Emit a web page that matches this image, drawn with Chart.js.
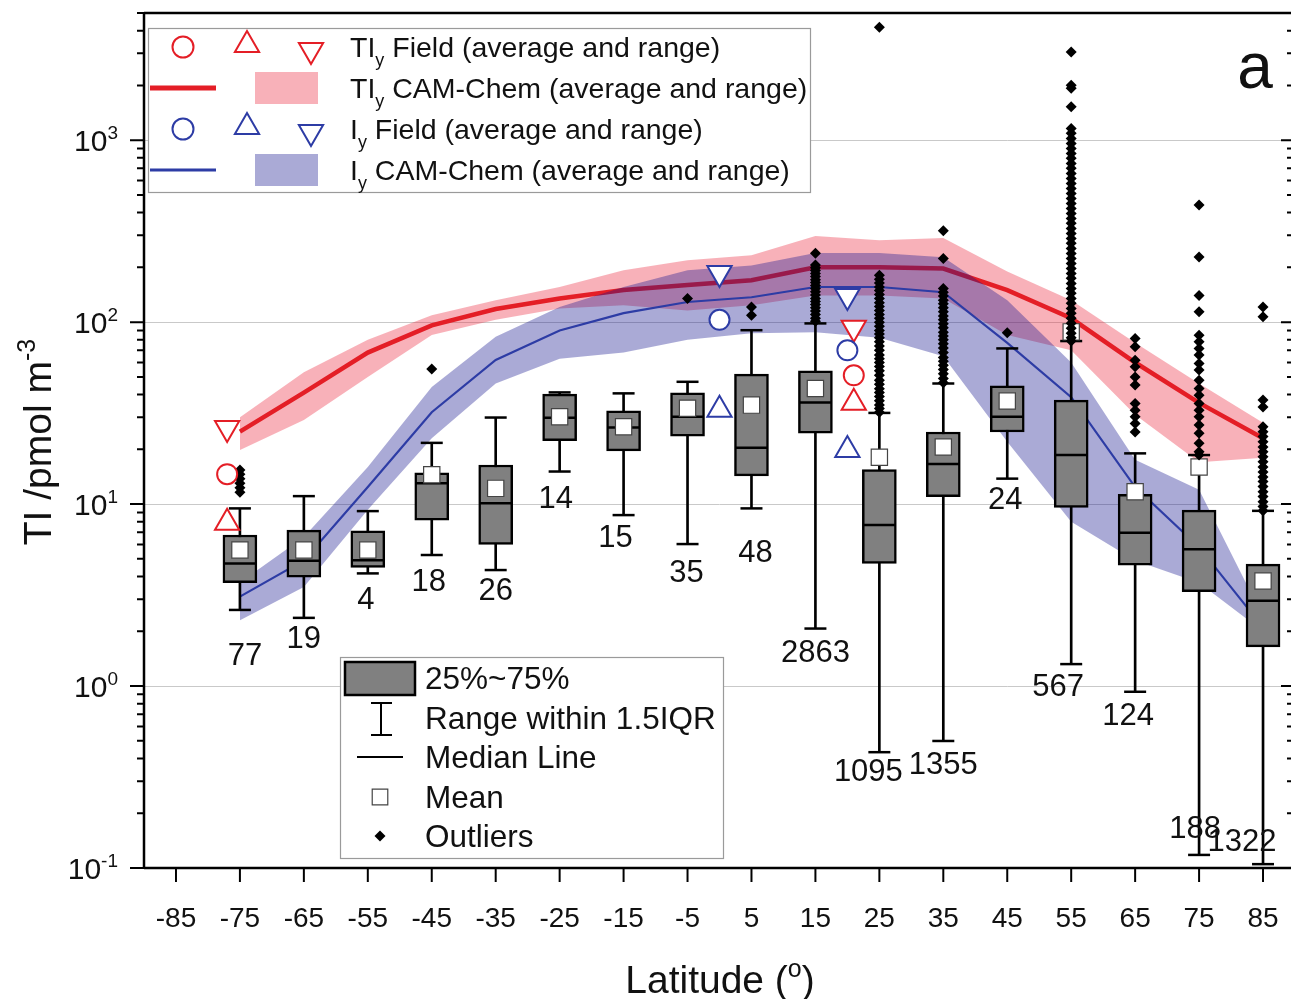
<!DOCTYPE html>
<html>
<head>
<meta charset="utf-8">
<script src="https://cdn.jsdelivr.net/npm/chart.js@4.4.1/dist/chart.umd.min.js"></script>
<style>
  html, body { margin: 0; padding: 0; background: #fff; overflow: hidden; }
  #wrap { position: relative; width: 1300px; height: 999px; }
</style>
</head>
<body>
<div id="wrap"><canvas id="chart" width="1300" height="999"></canvas></div>
<script>
// ---- model (CAM-Chem) zonal averages and ranges ----
const modelLat = [-75, -65, -55, -45, -35, -25, -15, -5, 5, 15, 25, 35, 45, 55, 65, 75, 85];
const tiyAvg  = [25, 41, 68, 96, 118, 135, 150, 160, 170, 200, 200, 197, 150, 105, 60, 36, 23];
const tiyHigh = [30, 53, 80, 109, 132, 156, 193, 219, 233, 297, 282, 290, 190, 132, 77, 46, 28];
const tiyLow  = [19.8, 29, 50, 85, 103, 119, 124, 116, 124, 140, 140, 135, 85, 70, 31, 17, 18];
const iyAvg   = [3.1, 4.9, 12.4, 32, 62, 90, 112, 129, 137, 156, 156, 146, 77, 38.7, 12.4, 5.8, 2.1];
const iyHigh  = [3.7, 6.6, 16, 44, 83, 121, 156, 193, 205, 240, 240, 227, 132, 60, 17.5, 12, 2.4];
const iyLow   = [2.3, 3.5, 9.3, 23, 46, 63, 68, 80, 87, 88, 82, 65, 22, 8, 4.9, 3.7, 2.0];

// ---- field campaigns (average, min, max) ----
const fieldTiyLat = [-77, 21];
const fieldTiyAvg = [14.6, 51];
const fieldTiyMin = [7.9, 36];
const fieldTiyMax = [26.2, 93];
const fieldIyLat = [0, 20];
const fieldIyAvg = [103, 70];
const fieldIyMin = [33, 19.8];
const fieldIyMax = [186, 139];

// ---- observed TI box plots per 10 degree band ----
const boxLat      = [-75, -65, -55, -45, -35, -25, -15, -5, 5, 15, 25, 35, 45, 55, 65, 75, 85];
const boxQ1       = [3.70, 3.96, 4.49, 8.17, 6.0, 22.3, 19.6, 23.6, 14.3, 24.5, 4.72, 10.97, 24.9, 9.59, 4.62, 3.30, 1.64];
const boxQ3       = [6.76, 7.19, 7.13, 14.85, 16.4, 40.2, 32.6, 40.9, 51.8, 54.0, 15.5, 24.9, 44.7, 37.3, 11.3, 9.27, 4.68];
const boxMedian   = [4.72, 4.88, 4.92, 13.0, 10.1, 29.8, 26.4, 30.2, 20.4, 36.2, 7.67, 16.6, 30.2, 18.6, 6.96, 5.64, 2.94];
const boxMean     = [5.59, 5.59, 5.6, 14.5, 12.2, 30.2, 26.6, 33.6, 35.0, 43.2, 18.1, 20.6, 36.9, 88.4, 11.7, 16.0, 3.78];
const whiskerLow  = [2.62, 2.37, 4.16, 5.25, 4.34, 15.1, 8.7, 6.03, 9.47, 2.07, 0.433, 0.499, 13.8, 1.32, 0.93, 0.118, 0.105];
const whiskerHigh = [9.47, 11.06, 9.15, 21.7, 29.9, 41.1, 40.6, 47.0, 90.3, 98.4, 31.7, 46.0, 71.7, 78.7, 19.0, 18.6, 9.18];
const boxCount    = [77, 19, 4, 18, 26, 14, 15, 35, 48, 2863, 1095, 1355, 24, 567, 124, 188, 1322];
const outlierValues = [
  [15.4, 14.6, 13.8, 13.0, 12.3, 11.6],
  [],
  [],
  [55.2],
  [],
  [],
  [],
  [135],
  [121, 109],
  [239, 206, 199, 192, 185, 178, 171, 165, 159, 153, 147, 141, 135, 130, 125, 120, 115, 110, 105, 101],
  [4180, 181, 172, 164, 156, 149, 142, 135, 128, 122, 116, 110, 105, 100, 95, 90, 86, 82, 78, 74, 70, 66, 63, 60, 57, 54, 51, 48, 45.5, 43, 41, 39, 37, 35, 33.5, 32],
  [318, 224, 153, 146, 139, 132, 126, 120, 114, 108, 103, 98, 93, 88, 84, 80, 76, 72, 68, 64, 61, 58, 55, 52, 49, 46.5],
  [87.4],
  [3055, 2005, 1930, 1525, 1160, 1090, 1020, 960, 900, 845, 795, 745, 700, 655, 615, 578, 543, 510, 478, 449, 421, 396, 371, 349, 327, 307, 288, 271, 254, 238, 224, 210, 197, 185, 174, 163, 153, 144, 135, 127, 119, 112, 105, 98.5, 92.5, 87, 82, 78.7],
  [81.3, 73.2, 61.8, 56.8, 50.0, 45.1, 35.7, 32.8, 30.2, 27.7, 24.9],
  [440, 228, 140, 114, 84.8, 77.9, 71.7, 65.9, 59.3, 54.5, 48.0, 43.2, 39.7, 35.7, 32.8, 30.2, 27.2, 24.5, 21.6, 19.4, 18.6],
  [121, 107, 37.3, 34.2, 26.6, 25, 23.5, 22, 20.6, 19.4, 18.2, 17.1, 16, 15, 14.1, 13.3, 12.5, 11.7, 11, 10.3, 9.7, 9.2]
];

// axis ticks
const xTicks = [-85, -75, -65, -55, -45, -35, -25, -15, -5, 5, 15, 25, 35, 45, 55, 65, 75, 85];
const yExponents = [-1, 0, 1, 2, 3];

// count label nudges (px) relative to the lower whisker end
const countDx = [5, 0, -2, -3, 0, -4, -8, -1, 4, 0, -11, 0, -2, -13, -7, -4, -21];
const countDy = [47, 22, 27, 27, 21, 28, 23, 29, 45, 25, 20, 24, 22, 23, 25, -25, -22];

const RED = 'rgb(228,30,38)';
const BLUE = 'rgb(45,60,165)';
const PINK_FILL = 'rgba(235,40,60,0.36)';
const BLUE_FILL = 'rgba(20,20,140,0.36)';
const FONT = '"Liberation Sans", Arial, sans-serif';

const pts = (xs, ys) => xs.map((x, i) => ({x: x, y: ys[i]}));

function font(px) { return px + 'px ' + FONT; }

// parts: [text, mode]; mode 1 = superscript, -1 = subscript
function drawParts(ctx, parts, x, y, size, align) {
  const widths = parts.map(([t, m]) => {
    ctx.font = font(m ? Math.round(size * 0.64) : size);
    return ctx.measureText(t).width;
  });
  const total = widths.reduce((a, b) => a + b, 0);
  let cx = align === 'center' ? x - total / 2 : align === 'right' ? x - total : x;
  ctx.textAlign = 'left';
  ctx.textBaseline = 'alphabetic';
  parts.forEach(([t, m], i) => {
    ctx.font = font(m ? Math.round(size * 0.64) : size);
    const dy = m === 1 ? -size * 0.4 : m === -1 ? size * 0.3 : 0;
    ctx.fillText(t, cx, y + dy);
    cx += widths[i];
  });
}

function marker(ctx, style, x, y, radius, rotation, stroke, fill, bw) {
  ctx.strokeStyle = stroke;
  ctx.fillStyle = fill;
  ctx.lineWidth = bw;
  Chart.helpers.drawPoint(ctx, {pointStyle: style, radius: radius, rotation: rotation || 0, borderWidth: bw}, x, y);
}

const framePlugin = {
  id: 'frame',
  beforeDatasetsDraw(chart) {
    const {ctx, chartArea: a, scales: {y}} = chart;
    ctx.save();
    ctx.strokeStyle = '#c9c9c9';
    ctx.lineWidth = 1;
    yExponents.forEach(e => {
      if (e <= -1) return;
      const py = Math.round(y.getPixelForValue(Math.pow(10, e))) + 0.5;
      ctx.beginPath();
      ctx.moveTo(a.left, py);
      ctx.lineTo(a.right, py);
      ctx.stroke();
    });
    ctx.restore();
  },
  afterDatasetsDraw(chart) {
    const {ctx, scales: {x, y}} = chart;
    ctx.save();
    // count labels
    ctx.fillStyle = '#111';
    ctx.font = font(31);
    ctx.textAlign = 'center';
    ctx.textBaseline = 'middle';
    boxLat.forEach((lat, i) => {
      const px = x.getPixelForValue(lat) + countDx[i];
      const py = y.getPixelForValue(whiskerLow[i]) + countDy[i];
      ctx.fillText(String(boxCount[i]), px, py);
    });
    ctx.restore();
  },
  afterDraw(chart) {
    const {ctx, chartArea: a, scales: {x, y}} = chart;
    ctx.save();
    ctx.strokeStyle = '#000';
    ctx.fillStyle = '#111';
    ctx.lineWidth = 2.5;
    // frame
    ctx.beginPath();
    ctx.moveTo(a.left, a.top); ctx.lineTo(a.right, a.top);
    ctx.moveTo(a.left, a.bottom); ctx.lineTo(a.right, a.bottom);
    ctx.moveTo(a.left, a.top); ctx.lineTo(a.left, a.bottom);
    ctx.moveTo(a.right, a.top); ctx.lineTo(a.right, a.bottom);
    ctx.stroke();
    // y ticks left (outward) and right (inward)
    ctx.lineWidth = 2;
    yExponents.forEach(e => {
      for (let k = 1; k <= 9; k++) {
        const v = k * Math.pow(10, e);
        if (v > y.max || v < y.min) continue;
        const py = y.getPixelForValue(v);
        const len = k === 1 ? 14 : 7;
        ctx.beginPath();
        ctx.moveTo(a.left - len, py); ctx.lineTo(a.left, py);
        ctx.moveTo(a.right - (k === 1 ? 14 : 8), py); ctx.lineTo(a.right, py);
        ctx.stroke();
      }
      const py = y.getPixelForValue(Math.pow(10, e));
      drawParts(ctx, [['10', 0], [String(e), 1]], 118, py + 11, 30, 'right');
    });
    // x ticks
    xTicks.forEach(t => {
      const px = x.getPixelForValue(t);
      ctx.beginPath();
      ctx.moveTo(px, a.bottom); ctx.lineTo(px, a.bottom + 14);
      ctx.stroke();
      ctx.font = font(28);
      ctx.textAlign = 'center';
      ctx.textBaseline = 'alphabetic';
      ctx.fillText(String(t), px, 927);
    });
    // axis titles
    drawParts(ctx, [['Latitude (', 0], ['o', 1], [')', 0]], 720, 993, 39, 'center');
    ctx.save();
    ctx.translate(51, 442);
    ctx.rotate(-Math.PI / 2);
    drawParts(ctx, [['TI /pmol m', 0], ['-3', 1]], 0, 0, 39, 'center');
    ctx.restore();
    // panel letter
    ctx.font = font(64);
    ctx.textAlign = 'center';
    ctx.textBaseline = 'alphabetic';
    ctx.fillText('a', 1255, 88);

    // legend 1: field / model
    ctx.fillStyle = '#fff';
    ctx.fillRect(148, 28, 662, 164);
    ctx.strokeStyle = '#9a9a9a';
    ctx.lineWidth = 1.2;
    ctx.strokeRect(148.5, 28.5, 662, 164);
    const rows1 = [47, 88, 129, 170];
    [[RED, 0], [BLUE, 2]].forEach(([col, r]) => {
      marker(ctx, 'circle', 183, rows1[r], 10.5, 0, col, '#fff', 2);
      marker(ctx, 'triangle', 247, rows1[r] - 2, 14, 0, col, '#fff', 2);
      marker(ctx, 'triangle', 311, rows1[r] + 3, 14, 180, col, '#fff', 2);
    });
    ctx.lineWidth = 5; ctx.strokeStyle = RED;
    ctx.beginPath(); ctx.moveTo(150, rows1[1]); ctx.lineTo(216, rows1[1]); ctx.stroke();
    ctx.lineWidth = 3; ctx.strokeStyle = BLUE;
    ctx.beginPath(); ctx.moveTo(150, rows1[3]); ctx.lineTo(216, rows1[3]); ctx.stroke();
    ctx.fillStyle = PINK_FILL; ctx.fillRect(255, rows1[1] - 16, 63, 32);
    ctx.fillStyle = BLUE_FILL; ctx.fillRect(255, rows1[3] - 16, 63, 32);
    ctx.fillStyle = '#111';
    drawParts(ctx, [['TI', 0], ['y', -1], [' Field (average and range)', 0]], 350, rows1[0] + 10, 28.5, 'left');
    drawParts(ctx, [['TI', 0], ['y', -1], [' CAM-Chem (average and range)', 0]], 350, rows1[1] + 10, 28.5, 'left');
    drawParts(ctx, [['I', 0], ['y', -1], [' Field (average and range)', 0]], 350, rows1[2] + 10, 28.5, 'left');
    drawParts(ctx, [['I', 0], ['y', -1], [' CAM-Chem (average and range)', 0]], 350, rows1[3] + 10, 28.5, 'left');

    // legend 2: box plot key
    ctx.fillStyle = '#fff';
    ctx.fillRect(340, 657, 383, 201);
    ctx.strokeStyle = '#9a9a9a';
    ctx.lineWidth = 1.2;
    ctx.strokeRect(340.5, 657.5, 383, 201);
    ctx.fillStyle = '#808080';
    ctx.fillRect(345, 662, 70, 33);
    ctx.strokeStyle = '#000';
    ctx.lineWidth = 2.5;
    ctx.strokeRect(345, 662, 70, 33);
    ctx.lineWidth = 2;
    ctx.beginPath();
    ctx.moveTo(381, 703); ctx.lineTo(381, 735);
    ctx.moveTo(371, 703); ctx.lineTo(392, 703);
    ctx.moveTo(371, 735); ctx.lineTo(392, 735);
    ctx.moveTo(357, 757); ctx.lineTo(403, 757);
    ctx.stroke();
    marker(ctx, 'rect', 380, 797, 11, 0, '#444', '#fff', 1.2);
    marker(ctx, 'rectRot', 380, 836, 5.5, 0, '#000', '#000', 0);
    ctx.fillStyle = '#111';
    ['25%~75%', 'Range within 1.5IQR', 'Median Line', 'Mean', 'Outliers'].forEach((t, i) => {
      ctx.font = font(31.5);
      ctx.textAlign = 'left';
      ctx.textBaseline = 'alphabetic';
      ctx.fillText(t, 425, [678, 718, 757, 797, 836][i] + 11);
    });
    ctx.restore();
  }
};

const outlierPts = [];
outlierValues.forEach((vals, i) => vals.forEach(v => outlierPts.push({x: boxLat[i], y: v})));

new Chart(document.getElementById('chart'), {
  type: 'scatter',
  data: {
    datasets: [
      {type: 'line', label: 'TIy high', data: pts(modelLat, tiyHigh), borderWidth: 0, pointRadius: 0, fill: false, order: 21},
      {type: 'line', label: 'TIy low', data: pts(modelLat, tiyLow), borderWidth: 0, pointRadius: 0, fill: '-1', backgroundColor: PINK_FILL, order: 20},
      {type: 'line', label: 'TIy CAM-Chem', data: pts(modelLat, tiyAvg), borderColor: RED, borderWidth: 4.5, pointRadius: 0, fill: false, order: 19},
      {type: 'line', label: 'Iy high', data: pts(modelLat, iyHigh), borderWidth: 0, pointRadius: 0, fill: false, order: 18.5},
      {type: 'line', label: 'Iy low', data: pts(modelLat, iyLow), borderWidth: 0, pointRadius: 0, fill: '-1', backgroundColor: BLUE_FILL, order: 18},
      {type: 'line', label: 'Iy CAM-Chem', data: pts(modelLat, iyAvg), borderColor: BLUE, borderWidth: 2.2, pointRadius: 0, fill: false, order: 17},
      {type: 'bar', label: 'whisker', data: boxLat.map((x, i) => ({x: x, y: [whiskerLow[i], whiskerHigh[i]]})),
        backgroundColor: '#000', borderWidth: 0, barThickness: 2, grouped: false, order: 16},
      {type: 'bar', label: 'box', data: boxLat.map((x, i) => ({x: x, y: [boxQ1[i], boxQ3[i]]})),
        backgroundColor: '#808080', borderColor: '#000', borderWidth: 2.5, borderSkipped: false, barThickness: 34, grouped: false, order: 15},
      {label: 'caps', data: pts(boxLat, whiskerLow).concat(pts(boxLat, whiskerHigh)), pointStyle: 'line', pointRadius: 11, borderColor: '#000', borderWidth: 2.5, order: 14},
      {label: 'median', data: pts(boxLat, boxMedian), pointStyle: 'line', pointRadius: 16, borderColor: '#000', borderWidth: 2.5, order: 13},
      {label: 'mean', data: pts(boxLat, boxMean), pointStyle: 'rect', pointRadius: 11.5, backgroundColor: '#fff', borderColor: '#444', borderWidth: 1.2, order: 12},
      {label: 'outliers', data: outlierPts, pointStyle: 'rectRot', pointRadius: 5.5, backgroundColor: '#000', borderWidth: 0, order: 11},
      {label: 'TIy field avg', data: pts(fieldTiyLat, fieldTiyAvg), pointStyle: 'circle', pointRadius: 10, backgroundColor: '#fff', borderColor: RED, borderWidth: 2, order: 5},
      {label: 'TIy field min', data: pts(fieldTiyLat, fieldTiyMin), pointStyle: 'triangle', pointRadius: 14, backgroundColor: '#fff', borderColor: RED, borderWidth: 2, order: 5},
      {label: 'TIy field max', data: pts(fieldTiyLat, fieldTiyMax), pointStyle: 'triangle', rotation: 180, pointRadius: 14, backgroundColor: '#fff', borderColor: RED, borderWidth: 2, order: 5},
      {label: 'Iy field avg', data: pts(fieldIyLat, fieldIyAvg), pointStyle: 'circle', pointRadius: 10, backgroundColor: '#fff', borderColor: BLUE, borderWidth: 2, order: 4},
      {label: 'Iy field min', data: pts(fieldIyLat, fieldIyMin), pointStyle: 'triangle', pointRadius: 14, backgroundColor: '#fff', borderColor: BLUE, borderWidth: 2, order: 4},
      {label: 'Iy field max', data: pts(fieldIyLat, fieldIyMax), pointStyle: 'triangle', rotation: 180, pointRadius: 14, backgroundColor: '#fff', borderColor: BLUE, borderWidth: 2, order: 4}
    ]
  },
  options: {
    responsive: false,
    animation: false,
    events: [],
    devicePixelRatio: 1,
    layout: {autoPadding: false, padding: {left: 144, right: 5, top: 13, bottom: 131}},
    scales: {
      x: {type: 'linear', min: -90, max: 90, display: false, offset: false, grid: {offset: false}},
      y: {type: 'logarithmic', min: 0.1, max: 5000, display: false}
    },
    plugins: {
      legend: {display: false},
      tooltip: {enabled: false}
    }
  },
  plugins: [framePlugin]
});
</script>
</body>
</html>
